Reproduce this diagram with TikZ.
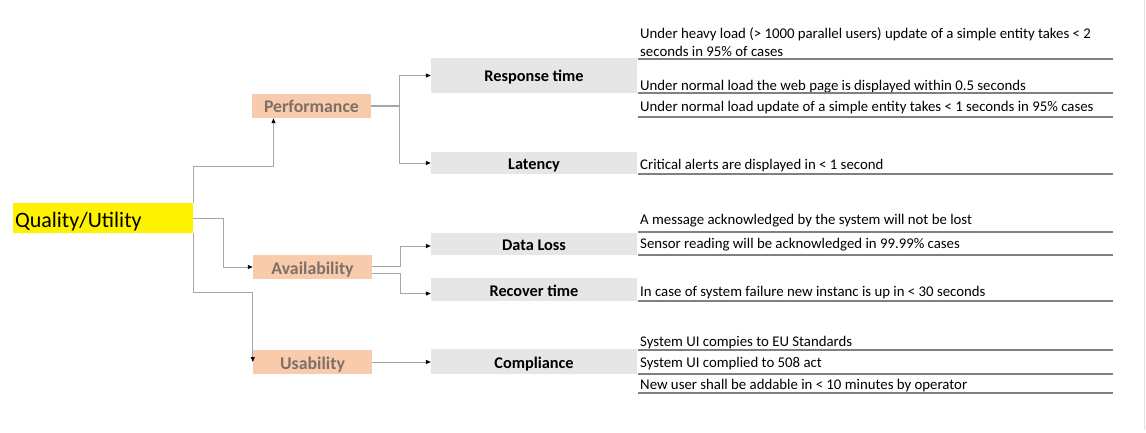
\documentclass[tikz,border=0pt]{standalone}
\usepackage{fontspec}
\setmainfont{Carlito}
\usetikzlibrary{arrows.meta,calc}
\definecolor{salmon}{HTML}{F8CBAD}
\definecolor{boxgray}{HTML}{E7E6E6}
\definecolor{conngray}{HTML}{A6A6A6}
\definecolor{rulegray}{HTML}{808080}
\definecolor{perftext}{HTML}{7F7065}
\begin{document}
\begin{tikzpicture}[x=1pt,y=-1pt,
  rootbox/.style={fill=yellow, minimum width=180pt, minimum height=30pt, inner sep=0pt, text width=176pt, text height=18pt, text depth=0pt, align=left, font=\fontsize{22}{26}\selectfont},
  catbox/.style={fill=salmon, minimum width=119pt, minimum height=24pt, inner sep=0pt, text height=14pt, text depth=0pt, text=perftext, font=\bfseries\fontsize{17.8}{20}\selectfont},
  subbox/.style={fill=boxgray, minimum width=206pt, inner sep=0pt, text height=13pt, text depth=0pt, font=\bfseries\fontsize{16.3}{19}\selectfont},
  reqtext/.style={anchor=west, inner sep=0pt, align=left, font=\fontsize{14.8}{18}\selectfont},
  conn/.style={draw=conngray, line width=0.9pt},
  arr/.style={conn, -{Triangle[length=5pt,width=4pt,color=black]}},
  rule/.style={draw=rulegray, line width=1.1pt}
]
\useasboundingbox (0,0) rectangle (1146,433);
\draw[draw=black!12, line width=1pt] (1144,0) -- (1144,430);

% root
\node[rootbox] (root) at (103,218) {Quality/Utility};

% categories
\node[catbox] (perf) at (311.5,106) {Performance};
\node[catbox] (avail) at (312.5,267) {Availability};
\node[catbox] (usab) at (312.5,362) {Usability};

% sub-categories
\node[subbox, minimum height=35pt] (resp) at (534,75.5) {Response time};
\node[subbox, minimum height=22pt] (lat) at (534,163) {Latency};
\node[subbox, minimum height=22pt] (dloss) at (534,244) {Data Loss};
\node[subbox, minimum height=23pt] (recov) at (534,289.5) {Recover time};
\node[subbox, minimum height=25pt] (compl) at (534,361.5) {Compliance};

% connectors from root
\draw[arr] (root.north east) -- ++(0,-36) -| ([xshift=-38pt]perf.south);
\draw[arr] (root.east) -- ++(30,0) |- (avail.west);
\draw[arr] (root.south east) -- ++(0,59) -| (usab.west);

% performance children
\draw[conn, double=conngray, double distance=1.2pt, line width=0.6pt] (perf.east) -- ++(28,0) coordinate (pj);
\draw[arr] (pj) |- (resp.west);
\draw[arr] (pj) |- (lat.west);

% availability children
\draw[arr] ([yshift=1pt]avail.east) -- ++(28,0) |- ([yshift=-2pt]dloss.west);
\draw[arr] ([yshift=-6pt]avail.east) -- ++(28,0) |- ([yshift=-4pt]recov.west);

% usability child
\draw[arr] (usab.east) -- (usab.east -| compl.west);

% requirement texts
\node[reqtext] (r1) at (640,42.5) {Under heavy load (> 1000 parallel users) update of a simple entity takes < 2\\seconds in 95\% of cases};
\node[reqtext] (r2) at (640,87) {Under normal load the web page is displayed within 0.5 seconds};
\node[reqtext] (r3) at (640,108) {Under normal load update of a simple entity takes < 1 seconds in 95\% cases};
\node[reqtext] (r4) at (640,166) {Critical alerts are displayed in < 1 second};
\node[reqtext] (r5) at (640,221) {A message acknowledged by the system will not be lost};
\node[reqtext] (r6) at (640,245) {Sensor reading will be acknowledged in 99.99\% cases};
\node[reqtext] (r7) at (640,293) {In case of system failure new instanc is up in < 30 seconds};
\node[reqtext] (r8) at (640,343) {System UI compies to EU Standards};
\node[reqtext] (r9) at (640,364) {System UI complied to 508 act};
\node[reqtext] (r10) at (640,386) {New user shall be addable in < 10 minutes by operator};

% table rules
\foreach \yy in {59,93,117,174,232,255,301,350,374,393}
  \draw[rule] (638,\yy) -- (1113,\yy);
\end{tikzpicture}
\end{document}
